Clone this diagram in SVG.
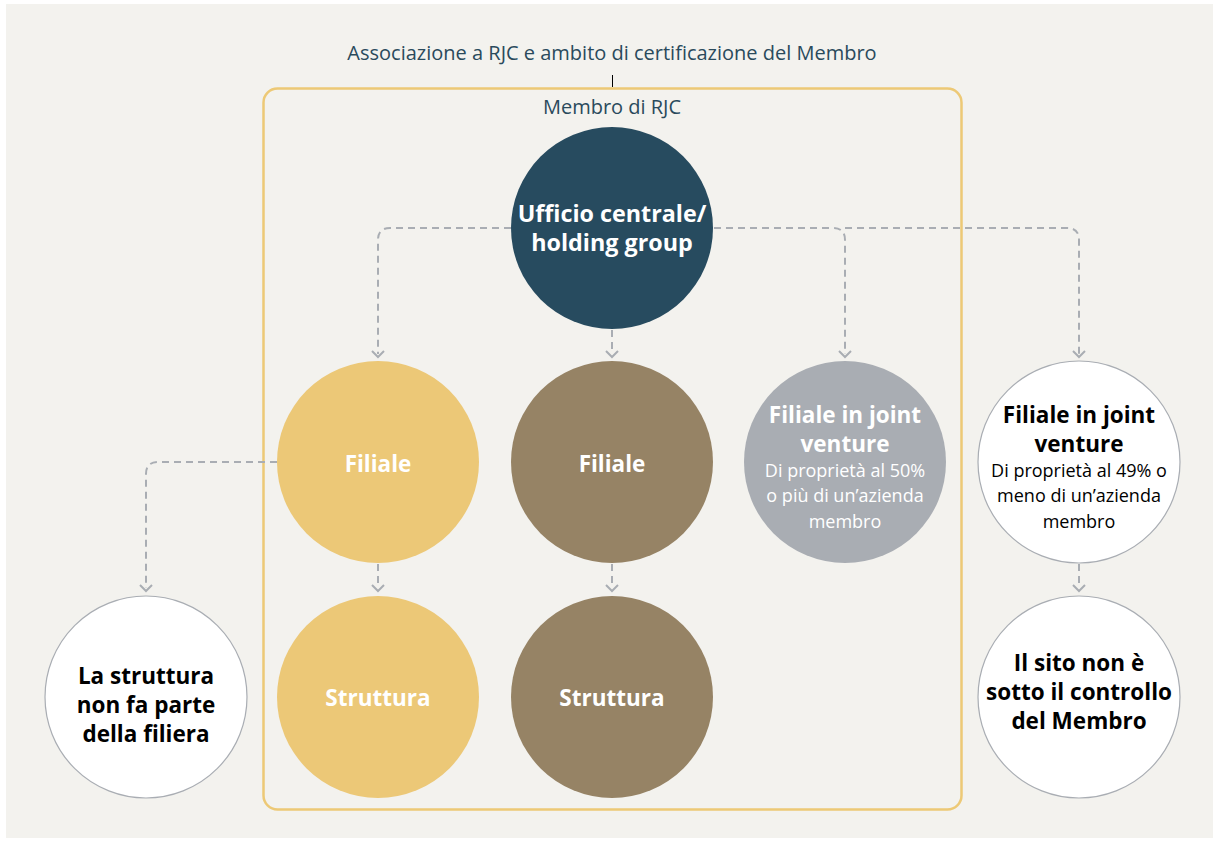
<svg xmlns="http://www.w3.org/2000/svg" width="1213" height="841" viewBox="0 0 1213 841">
<defs>
<style>
.t{font-family:"Open Sans","Noto Sans","Liberation Sans",sans-serif;text-anchor:middle}
.title{font-size:20px;fill:#2a4a5c}
.b{font-weight:700;font-size:22.5px}
.s{font-size:18px}
.w{fill:#ffffff}
.k{fill:#000000}
.wc{fill:#ffffff;stroke:#a9adb3;stroke-width:1.2}
.con{fill:none;stroke:#a9adb3;stroke-width:2;stroke-dasharray:7 5}
.ah{fill:none;stroke:#a9adb3;stroke-width:2}
</style>
</defs>
<rect x="6" y="4" width="1207" height="834" fill="#f3f2ee"/>
<g id="frame">
<rect x="263.5" y="88.5" width="698" height="721" rx="14" fill="none" stroke="#edc976" stroke-width="2.5"/>
<line x1="612.5" y1="75" x2="612.5" y2="87" stroke="#000" stroke-width="1"/>
<text class="t title" x="612" y="60">Associazione a RJC e ambito di certificazione del Membro</text>
<text class="t title" x="612" y="114">Membro di RJC</text>
</g>
<g id="connectors">
<path class="con" d="M511 228 H390 Q378 228 378 240 V354"/>
<path class="con" d="M612 330 V354"/>
<path class="con" d="M714 228 H833 Q845 228 845 240 V354"/>
<path class="con" d="M845 228 H1067 Q1079 228 1079 240 V354"/>
<path class="con" d="M277 462 H158 Q146 462 146 474 V588"/>
<path class="con" d="M378 564 V588"/>
<path class="con" d="M612 564 V588"/>
<path class="con" d="M1079 564 V588"/>
<g class="ah">
<path d="M372 351 L378 357 L384 351"/>
<path d="M606 351 L612 357 L618 351"/>
<path d="M839 351 L845 357 L851 351"/>
<path d="M1073 351 L1079 357 L1085 351"/>
<path d="M140 585 L146 591 L152 585"/>
<path d="M372 585 L378 591 L384 585"/>
<path d="M606 585 L612 591 L618 585"/>
<path d="M1073 585 L1079 591 L1085 585"/>
</g>
</g>
<g id="holding">
<circle cx="612" cy="228" r="101" fill="#274b5f"/>
<text class="t b w" x="612" y="222" style="font-size:23.3px">Ufficio centrale/</text>
<text class="t b w" x="612" y="251" style="font-size:23.3px">holding group</text>
</g>
<g id="filiale-1">
<circle cx="378" cy="462" r="101" fill="#ecc877"/>
<text class="t b w" x="378" y="472">Filiale</text>
</g>
<g id="filiale-2">
<circle cx="612" cy="462" r="101" fill="#968365"/>
<text class="t b w" x="612" y="472">Filiale</text>
</g>
<g id="jv-50">
<circle cx="845" cy="462" r="101" fill="#a9adb3"/>
<text class="t b w" x="845" y="423">Filiale in joint</text>
<text class="t b w" x="845" y="452">venture</text>
<text class="t s w" x="845" y="477">Di proprietà al 50%</text>
<text class="t s w" x="845" y="502">o più di un’azienda</text>
<text class="t s w" x="845" y="528">membro</text>
</g>
<g id="jv-49">
<circle class="wc" cx="1079" cy="462" r="101"/>
<text class="t b k" x="1079" y="423">Filiale in joint</text>
<text class="t b k" x="1079" y="452">venture</text>
<text class="t s k" x="1079" y="477">Di proprietà al 49% o</text>
<text class="t s k" x="1079" y="502">meno di un’azienda</text>
<text class="t s k" x="1079" y="528">membro</text>
</g>
<g id="struttura-1">
<circle cx="378" cy="697" r="101" fill="#ecc877"/>
<text class="t b w" x="378" y="706">Struttura</text>
</g>
<g id="struttura-2">
<circle cx="612" cy="697" r="101" fill="#968365"/>
<text class="t b w" x="612" y="706">Struttura</text>
</g>
<g id="fuori-filiera">
<circle class="wc" cx="146" cy="697" r="101"/>
<text class="t b k" x="146" y="683.5">La struttura</text>
<text class="t b k" x="146" y="712.5">non fa parte</text>
<text class="t b k" x="146" y="741.5">della filiera</text>
</g>
<g id="fuori-controllo">
<circle class="wc" cx="1079" cy="697" r="101"/>
<text class="t b k" x="1079" y="670.5">Il sito non è</text>
<text class="t b k" x="1079" y="699.5">sotto il controllo</text>
<text class="t b k" x="1079" y="728.5">del Membro</text>
</g>
</svg>
